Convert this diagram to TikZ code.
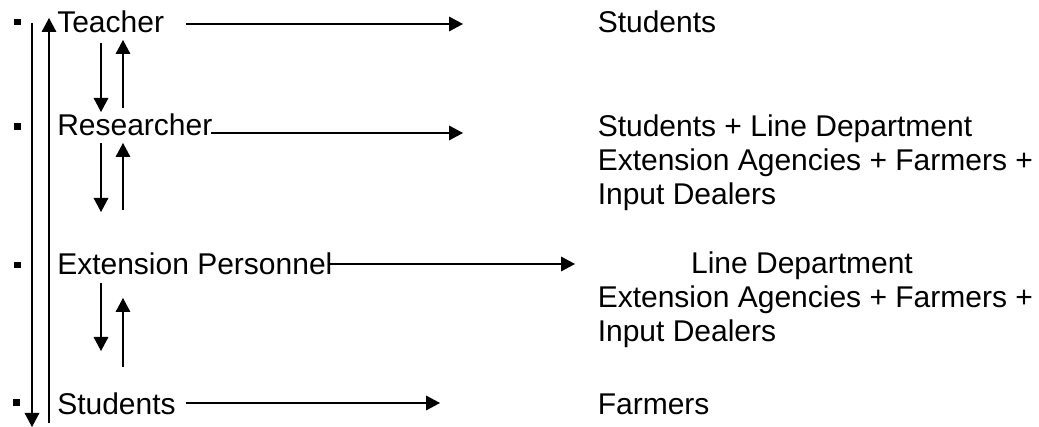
\documentclass[tikz,border=0pt]{standalone}
\usepackage{fontspec}
\setmainfont{Liberation Sans}
\usetikzlibrary{arrows.meta}
\tikzset{
  lbl/.style={anchor=base west, inner sep=0pt, font=\fontsize{22.5}{25.5}\selectfont},
  blt/.style={fill=black, inner sep=0pt, minimum size=4.9pt},
  flow/.style={-{Triangle[length=10.5pt,width=11pt]}, line width=1pt},
  updown/.style={flow, line width=0.8pt},
}
\begin{document}
\begin{tikzpicture}[x=0.75pt,y=0.75pt,yscale=-1,xscale=1]
    \useasboundingbox (0,0) rectangle (1039,427);

    %Shape: Bullets
    \node[blt] (bteacher) at (17.5,22) {};
    \node[blt] (bresearcher) at (17.5,126.5) {};
    \node[blt] (bextension) at (17.5,265) {};
    \node[blt] (bstudents) at (16.5,402.5) {};

    % Text Node
    \node[lbl] (teacher) at (57,33) {Teacher};
    % Text Node
    \node[lbl] (researcher) at (57,136) {Researcher};
    % Text Node
    \node[lbl] (extension) at (57,275) {Extension Personnel};
    % Text Node
    \node[lbl] (students) at (57,415) {Students};

    % Text Node
    \node[lbl] (tostudents) at (597.5,33) {Students};
    % Text Node (base = last line)
    \node[lbl, align=left] (toresearch) at (597.5,205) {Students + Line Department\\Extension Agencies + Farmers +\\Input Dealers};
    % Text Node (base = last line)
    \node[lbl, align=left] (toextension) at (597.5,342) {\hspace*{70pt}Line Department\\Extension Agencies + Farmers +\\Input Dealers};
    % Text Node
    \node[lbl] (tofarmers) at (597.5,415) {Farmers};

    %Straight Lines: ends
    \coordinate (teachA) at (186,24);   \coordinate (teachB) at (463,24);
    \coordinate (resA) at (211,133);    \coordinate (resB) at (463,133);
    \coordinate (extA) at (328,264);    \coordinate (extB) at (575,264);
    \coordinate (stuA) at (186,403);    \coordinate (stuB) at (440,403);
    \coordinate (downT) at (32,23);     \coordinate (downB) at (32,427);
    \coordinate (upB) at (49,423);      \coordinate (upT) at (49,18);
    \coordinate (d1T) at (101,43);      \coordinate (d1B) at (101,112);
    \coordinate (u1B) at (123,108);     \coordinate (u1T) at (123,40);
    \coordinate (d2T) at (101,143);     \coordinate (d2B) at (101,212);
    \coordinate (u2B) at (123,210);     \coordinate (u2T) at (123,143);
    \coordinate (d3T) at (101,283);     \coordinate (d3B) at (101,351);
    \coordinate (u3B) at (123,367);     \coordinate (u3T) at (123,298);

    %Straight Lines
    \draw[flow] (teachA) -- (teachB);
    \draw[flow] (resA) -- (resB);
    \draw[flow] (extA) -- (extB);
    \draw[flow] (stuA) -- (stuB);

    %Straight Lines
    \draw[updown] (downT) -- (downB);
    \draw[updown] (upB) -- (upT);

    %Straight Lines
    \draw[updown] (d1T) -- (d1B);
    \draw[updown] (u1B) -- (u1T);
    \draw[updown] (d2T) -- (d2B);
    \draw[updown] (u2B) -- (u2T);
    \draw[updown] (d3T) -- (d3B);
    \draw[updown] (u3B) -- (u3T);

\end{tikzpicture}
\end{document}
